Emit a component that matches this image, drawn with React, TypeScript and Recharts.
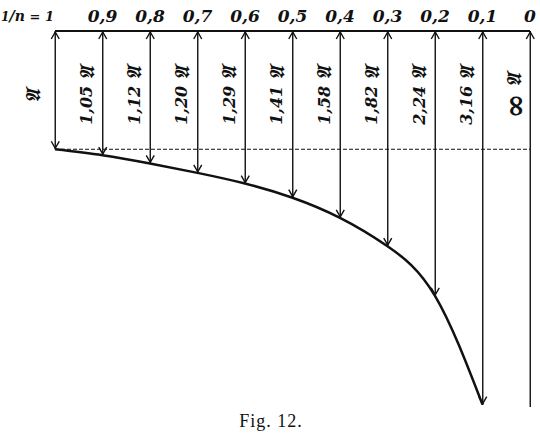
import React from "react";
import { Bar, ComposedChart, Line, ReferenceLine, XAxis, YAxis } from "recharts";

// 1/n along the top, and the lengths (in units of 𝔄)
const ratios = [1, 0.9, 0.8, 0.7, 0.6, 0.5, 0.4, 0.3, 0.2, 0.1, 0];
const factors = [1, 1.05, 1.12, 1.2, 1.29, 1.41, 1.58, 1.82, 2.24, 3.16, Infinity];
const xTicks = [1, 0.9, 0.8, 0.7, 0.6, 0.5, 0.4, 0.3, 0.2, 0.1, 0];

const Y_MAX = 3.18;
const INK = "#111";
const FRAK = "\u{1D504}";

const data = ratios.map((r, i) => {
  const f = factors[i];
  const finite = Number.isFinite(f);
  return {
    r,
    len: finite ? f : Y_MAX,
    curve: finite ? f : null,
    finite,
    label: !finite ? "∞" : f === 1 ? "" : f.toFixed(2).replace(".", ","),
  };
});

const fmt = (v: number) => (v === 0 ? "0" : v.toFixed(1).replace(".", ","));

function TopTick(props: any) {
  const { x, y, payload } = props;
  const v = payload.value;
  if (v === 1) {
    return (
      <text
        x={x - 1}
        y={y}
        dy={-2}
        textAnchor="end"
        fontFamily="DejaVu Serif"
        fontStyle="italic"
        fontWeight="bold"
        fontSize={14}
        fill={INK}
      >
        <tspan fontSize={12}>1</tspan>
        <tspan fontSize={15}>/</tspan>
        <tspan fontSize={14}>n</tspan>
        <tspan fontSize={13}> = 1</tspan>
      </text>
    );
  }
  return (
    <text
      x={x}
      y={y}
      dy={-1}
      textAnchor="middle"
      fontFamily="DejaVu Serif"
      fontStyle="italic"
      fontWeight="bold"
      fontSize={17}
      fill={INK}
    >
      {fmt(v)}
    </text>
  );
}

function ArrowShape(props: any) {
  const { x, y, width, height, payload } = props;
  const cx = x + width / 2;
  const top = Math.min(y, y + height);
  const bottom = Math.max(y, y + height);
  const first = payload.r === 1;
  const lx = cx - (first ? 22 : 16);
  const ly = top + 65;
  return (
    <g>
      <line x1={cx} y1={top} x2={cx} y2={bottom} stroke={INK} strokeWidth={1.4} />
      <polyline
        points={`${cx - 4},${top + 8} ${cx},${top + 1} ${cx + 4},${top + 8}`}
        fill="none"
        stroke={INK}
        strokeWidth={1.4}
      />
      {payload.finite && (
        <polyline
          points={`${cx - 4},${bottom - 8} ${cx},${bottom - 1} ${cx + 4},${bottom - 8}`}
          fill="none"
          stroke={INK}
          strokeWidth={1.4}
        />
      )}
      <text
        x={lx}
        y={ly}
        transform={`rotate(-90 ${lx} ${ly})`}
        textAnchor="middle"
        dominantBaseline="central"
        fontFamily="DejaVu Serif"
        fontStyle="italic"
        fontWeight="bold"
        fontSize={16}
        fill={INK}
      >
        {payload.label === "∞" ? (
          <>
            <tspan fontSize={30} fontStyle="normal" fontWeight="bold">∞</tspan>
            <tspan fontSize={20}> {FRAK}</tspan>
          </>
        ) : (
          <>
            {payload.label}
            {payload.label ? " " : ""}
            <tspan fontSize={20}>{FRAK}</tspan>
          </>
        )}
      </text>
    </g>
  );
}

export default function App() {
  return (
    <div style={{ position: "absolute", left: 0, top: 0, width: 540, height: 435, background: "#fff" }}>
      <ComposedChart
        width={540}
        height={435}
        data={data}
        margin={{ top: 30, right: 10, bottom: 28, left: 55 }}
      >
        <XAxis
          dataKey="r"
          type="number"
          domain={[0, 1]}
          reversed
          orientation="top"
          ticks={xTicks}
          interval={0}
          tick={<TopTick />}
          tickLine={false}
          axisLine={{ stroke: INK, strokeWidth: 2 }}
          height={1}
        />
        <YAxis type="number" domain={[0, Y_MAX]} reversed hide allowDataOverflow />
        <ReferenceLine y={1} stroke={INK} strokeWidth={1.2} strokeDasharray="4 2" />
        <Bar dataKey="len" barSize={8} shape={<ArrowShape />} isAnimationActive={false} />
        <Line
          dataKey="curve"
          type="natural"
          stroke={INK}
          strokeWidth={2.5}
          dot={false}
          activeDot={false}
          isAnimationActive={false}
        />
      </ComposedChart>
      <div
        style={{
          position: "absolute",
          left: 0,
          width: 542,
          top: 411,
          textAlign: "center",
          fontFamily: "Liberation Serif",
          fontSize: 18,
          letterSpacing: 1,
          color: INK,
        }}
      >
        Fig. 12.
      </div>
    </div>
  );
}
